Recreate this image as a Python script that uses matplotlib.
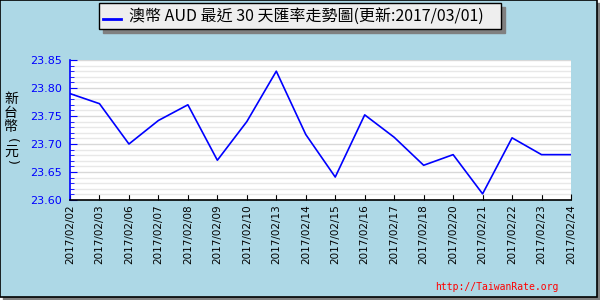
import matplotlib
matplotlib.use('Agg')
import matplotlib.pyplot as plt
from matplotlib.patches import Rectangle
from matplotlib.ticker import MultipleLocator, FormatStrFormatter

# 資料
dates = ['2017/02/02', '2017/02/03', '2017/02/06', '2017/02/07', '2017/02/08',
         '2017/02/09', '2017/02/10', '2017/02/13', '2017/02/14', '2017/02/15',
         '2017/02/16', '2017/02/17', '2017/02/18', '2017/02/20', '2017/02/21',
         '2017/02/22', '2017/02/23', '2017/02/24']
rates = [23.79, 23.772, 23.70, 23.742, 23.77, 23.671, 23.74, 23.83, 23.717,
         23.641, 23.752, 23.712, 23.662, 23.681, 23.611, 23.711, 23.681, 23.681]
title_text = '澳幣 AUD 最近 30 天匯率走勢圖(更新:2017/03/01)'
ylabel_chars = ['新', '台', '幣', '(', '元', ')']
watermark = 'http://TaiwanRate.org'

plt.rcParams['font.family'] = ['Noto Sans CJK TC', 'DejaVu Sans']

W, H = 600, 300
fig = plt.figure(figsize=(6, 3), dpi=100)
fig.patch.set_facecolor('white')

def px(x, y, w, h):
    # 像素座標 -> figure 座標 (左上原點)
    return (x / W, 1 - (y + h) / H), w / W, h / H

# 外框 + 陰影
(xy, w, h) = px(3, 3, 597, 297)
fig.patches.append(Rectangle(xy, w, h, transform=fig.transFigure, color='#808080', zorder=0))
(xy, w, h) = px(0, 0, 597, 297)
fig.patches.append(Rectangle(xy, w, h, transform=fig.transFigure, facecolor='#ADD8E6',
                             edgecolor='black', lw=1.2, zorder=0))

# 標題框
(xy, w, h) = px(103, 7, 402, 26)
fig.patches.append(Rectangle(xy, w, h, transform=fig.transFigure, color='#808080', zorder=1))
(xy, w, h) = px(99, 3, 402, 26)
fig.patches.append(Rectangle(xy, w, h, transform=fig.transFigure, facecolor='#EEEEEE',
                             edgecolor='black', lw=1, zorder=1))
fig.lines.append(plt.Line2D([103 / W, 121 / W], [1 - 19 / H, 1 - 19 / H],
                            transform=fig.transFigure, color='blue', lw=2, zorder=2))
fig.text(129 / W, 1 - 16 / H, title_text, fontsize=11.5, va='center', ha='left', zorder=3)

ax = fig.add_axes([70 / W, 1 - 200 / H, 501 / W, 140 / H])
ax.set_zorder(5)
ax.set_facecolor('white')
x = list(range(len(dates)))
ax.plot(x, rates, color='blue', lw=1.2, zorder=3)

ax.set_xlim(0, len(dates) - 1)
ax.set_ylim(23.60, 23.85)
ax.yaxis.set_major_locator(MultipleLocator(0.05))
ax.yaxis.set_minor_locator(MultipleLocator(0.01))
ax.yaxis.set_major_formatter(FormatStrFormatter('%.2f'))
ax.grid(which='minor', axis='y', color='#E8E8E8', lw=1)
ax.grid(which='major', axis='y', color='#D8D8D8', lw=1)
ax.set_axisbelow(True)

ax.set_xticks(x)
ax.set_xticklabels(dates, rotation=90, fontsize=7.5, family='DejaVu Sans')
for lab in ax.get_yticklabels():
    lab.set_family('DejaVu Sans')
ax.tick_params(axis='y', which='major', direction='in', length=5, color='blue',
               labelcolor='blue', labelsize=8, pad=6)
ax.tick_params(axis='y', which='minor', direction='in', length=3, color='blue')
ax.tick_params(axis='x', direction='in', length=4, color='black', labelsize=7.5, pad=3)

for s in ['top', 'right']:
    ax.spines[s].set_visible(False)
ax.spines['left'].set_color('blue')
ax.spines['left'].set_linewidth(1.2)
ax.spines['bottom'].set_color('black')
ax.spines['bottom'].set_linewidth(1.2)

# 縱向 y 軸標題 (括號轉 90 度)
ylabel_y = [99, 113, 127, 140, 152, 162]
for ch, yy in zip(ylabel_chars, ylabel_y):
    if ch in '()':
        fig.text(11 / W, 1 - yy / H, ch, fontsize=9, ha='center', va='center',
                 rotation=-90, family='DejaVu Sans')
    else:
        fig.text(11 / W, 1 - yy / H, ch, fontsize=10, ha='center', va='center')

fig.text(558 / W, 1 - 287 / H, watermark, color='red', fontsize=7,
         family='DejaVu Sans Mono', ha='right', va='center')

fig.savefig('out.png', dpi=100)
